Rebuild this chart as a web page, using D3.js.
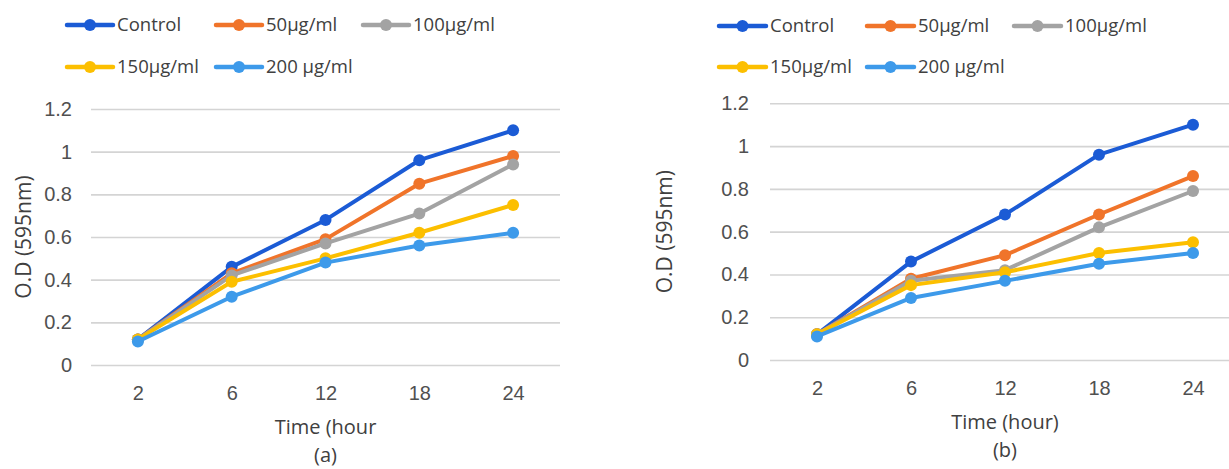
<!DOCTYPE html>
<html>
<head>
<meta charset="utf-8">
<script src="https://cdn.jsdelivr.net/npm/d3@7/dist/d3.min.js"></script>
<style>
  html, body { margin: 0; padding: 0; background: #fff; }
  svg { display: block; font-family: "Open Sans", "Liberation Sans", sans-serif; }
</style>
</head>
<body>
<svg id="chart" width="1229" height="469"></svg>
<script>
// Sampling times (hours) and treatment groups
const hours = ["2", "6", "12", "18", "24"];
const groups = ["Control", "50µg/ml", "100µg/ml", "150µg/ml", "200 µg/ml"];
const yTicks = [0, 0.2, 0.4, 0.6, 0.8, 1, 1.2];

// Panel (a): optical density at 595 nm
const controlA = [0.12, 0.46, 0.68, 0.96, 1.10];
const dose50A  = [0.12, 0.43, 0.59, 0.85, 0.98];
const dose100A = [0.12, 0.42, 0.57, 0.71, 0.94];
const dose150A = [0.12, 0.39, 0.50, 0.62, 0.75];
const dose200A = [0.11, 0.32, 0.48, 0.56, 0.62];

// Panel (b): optical density at 595 nm
const controlB = [0.12, 0.46, 0.68, 0.96, 1.10];
const dose50B  = [0.12, 0.38, 0.49, 0.68, 0.86];
const dose100B = [0.12, 0.37, 0.42, 0.62, 0.79];
const dose150B = [0.12, 0.35, 0.41, 0.50, 0.55];
const dose200B = [0.11, 0.29, 0.37, 0.45, 0.50];

const colors = ["#1b5bd5", "#f0742a", "#a3a3a3", "#fcbf00", "#3d9aea"];

const svg = d3.select("#chart");

function drawPanel(cfg) {
  const g = svg.append("g");
  const x = d3.scalePoint().domain(hours).range([cfg.left, cfg.right]).padding(0.5);
  const y = d3.scaleLinear().domain([0, 1.2]).range([cfg.bottom, cfg.top]);

  // Horizontal gridlines with value labels
  const yAxis = g.append("g")
    .attr("transform", `translate(${cfg.left},0)`)
    .call(d3.axisLeft(y).tickValues(yTicks)
      .tickFormat(d => String(+d.toFixed(1)))
      .tickSizeInner(-(cfg.right - cfg.left)).tickSizeOuter(0).tickPadding(cfg.yPad));
  yAxis.select(".domain").remove();
  yAxis.selectAll(".tick line").attr("stroke", "#d4d4d4").attr("stroke-width", 1.6);
  yAxis.selectAll(".tick text").attr("fill", "#505050").attr("font-size", 20);

  // Category labels along the bottom
  const xAxis = g.append("g")
    .attr("transform", `translate(0,${cfg.bottom})`)
    .call(d3.axisBottom(x).tickSize(0).tickPadding(21));
  xAxis.select(".domain").remove();
  xAxis.selectAll(".tick text").attr("fill", "#505050").attr("font-size", 20);

  // Series lines and markers
  const line = d3.line().x((d, i) => x(hours[i])).y(d => y(d));
  cfg.series.forEach((vals, k) => {
    g.append("path").datum(vals)
      .attr("fill", "none").attr("stroke", colors[k]).attr("stroke-width", 4)
      .attr("stroke-linejoin", "round").attr("d", line);
    g.selectAll(null).data(vals).enter().append("circle")
      .attr("cx", (d, i) => x(hours[i])).attr("cy", d => y(d))
      .attr("r", 6).attr("fill", colors[k]);
  });

  // Axis titles
  g.append("text")
    .attr("transform", `translate(${cfg.yTitleX},${(cfg.top + cfg.bottom) / 2}) rotate(-90)`)
    .attr("text-anchor", "middle").attr("dy", "0.35em")
    .attr("font-size", 21).attr("fill", "#404040").text("O.D (595nm)");
  const cx = (cfg.left + cfg.right) / 2;
  g.append("text").attr("x", cx).attr("y", cfg.titleBase)
    .attr("text-anchor", "middle").attr("font-size", 20).attr("fill", "#404040")
    .text(cfg.xTitle);
  g.append("text").attr("x", cx).attr("y", cfg.titleBase + 27.5)
    .attr("text-anchor", "middle").attr("font-size", 20).attr("fill", "#404040")
    .text(cfg.caption);

  // Legend
  const lg = g.append("g");
  cfg.legend.forEach((p, k) => {
    const row = lg.append("g").attr("transform", `translate(${p[0]},${p[1]})`);
    row.append("line").attr("x1", 2).attr("x2", cfg.legLen - 2).attr("y1", 0).attr("y2", 0)
      .attr("stroke", colors[k]).attr("stroke-width", 4.5).attr("stroke-linecap", "round");
    row.append("circle").attr("cx", cfg.legLen / 2).attr("cy", 0).attr("r", 6).attr("fill", colors[k]);
    row.append("text").attr("x", cfg.legLen + 2).attr("y", 0).attr("dy", "0.35em")
      .attr("font-size", 18.5).attr("fill", "#404040").text(groups[k]);
  });
}

drawPanel({
  left: 91, right: 560, top: 109, bottom: 365, yPad: 19, yTitleX: 24,
  titleBase: 434, xTitle: "Time (hour", caption: "(a)",
  series: [controlA, dose50A, dose100A, dose150A, dose200A],
  legLen: 50,
  legend: [[65, 25], [214, 25], [361, 25], [65, 67], [214, 67]]
});

drawPanel({
  left: 770, right: 1240, top: 103.3, bottom: 360, yPad: 21, yTitleX: 665,
  titleBase: 429, xTitle: "Time (hour)", caption: "(b)",
  series: [controlB, dose50B, dose100B, dose150B, dose200B],
  legLen: 51,
  legend: [[717, 26], [865, 26], [1012, 26], [717, 67], [865, 67]]
});
</script>
</body>
</html>
